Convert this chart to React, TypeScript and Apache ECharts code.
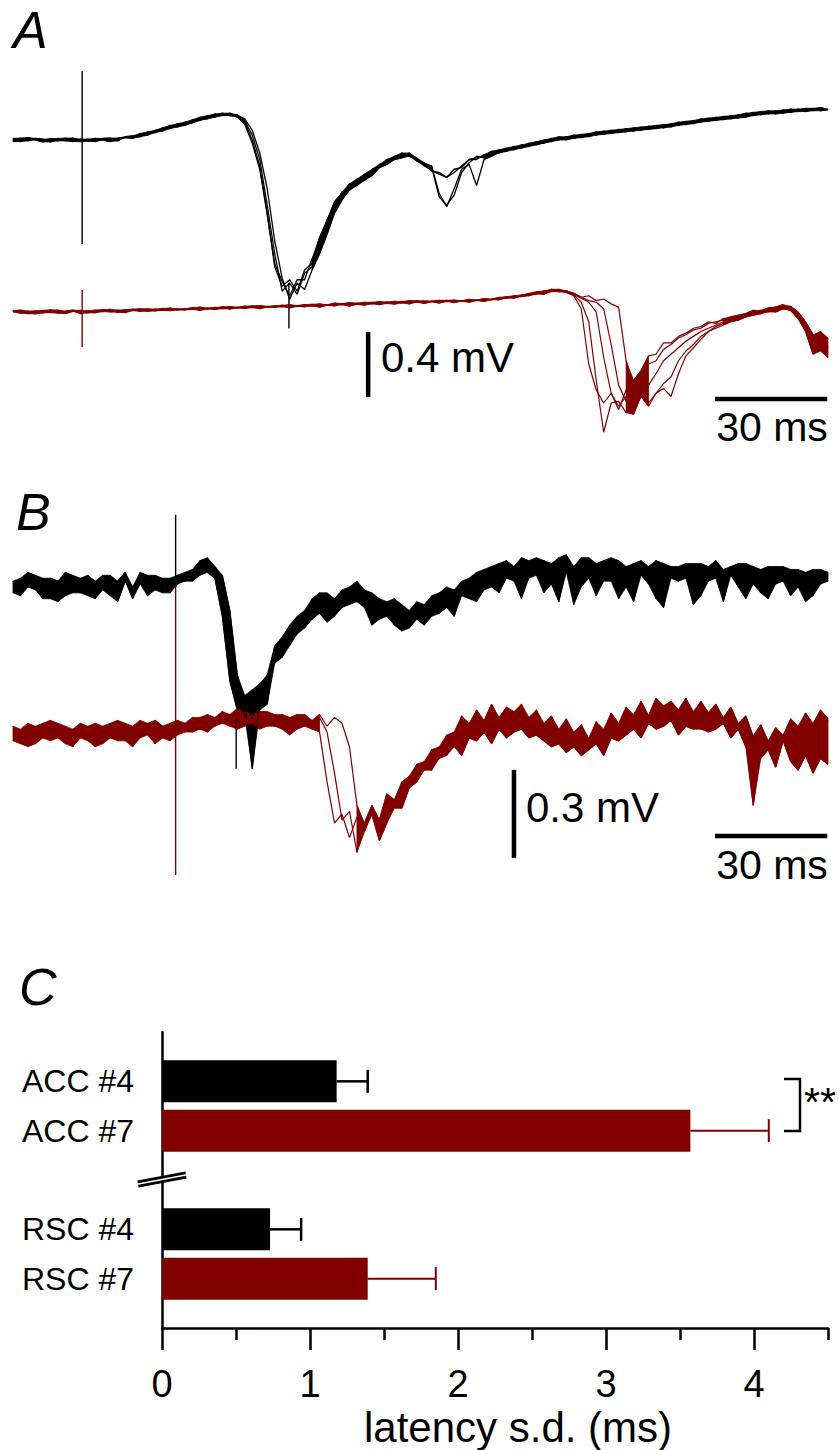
import React, { useEffect, useRef } from "react";
import * as echarts from "echarts";

const FONT = "'Liberation Sans', Arial, Helvetica, sans-serif";
const BLACK = "#000000";
const RED = "#800000";

// ---- Time bases (ms relative to stimulus), 2 ms sampling ----
const STEP = 2;
const A_T0 = -18.5;
const B_T0 = -43.5;

// ---- Panel A, black sweeps (mV) ----
const aBlack1 = [
  0.01, -0.01, 0.015, 0, -0.012, 0.008, -0.005, 0.012, -0.01, 0.005,
  -0.008, 0.01, 0.0, -0.01, 0.012, 0.015, 0.01, 0.04, 0.03, 0.06,
  0.055, 0.09, 0.08, 0.11, 0.105, 0.14, 0.13, 0.16, 0.15, 0.165,
  0.14, 0.12, 0.03, -0.12, -0.4, -0.7, -0.93, -0.88, -0.95, -0.82,
  -0.78, -0.62, -0.54, -0.4, -0.35, -0.27, -0.27, -0.21, -0.21, -0.15,
  -0.14, -0.1, -0.1, -0.08, -0.13, -0.14, -0.19, -0.2, -0.23, -0.18,
  -0.17, -0.12, -0.12, -0.09, -0.09, -0.06, -0.07, -0.04, -0.05, -0.02,
  -0.03, 0.0, -0.01, 0.02, 0.0, 0.03, 0.015, 0.04, 0.03, 0.055,
  0.04, 0.065, 0.05, 0.075, 0.06, 0.085, 0.07, 0.095, 0.08, 0.11,
  0.095, 0.12, 0.11, 0.135, 0.12, 0.145, 0.13, 0.155, 0.14, 0.17,
  0.155, 0.18, 0.16, 0.185, 0.17, 0.19, 0.175, 0.195, 0.18, 0.19,
];
const aBlack2 = [
  -0.01, 0.012, -0.005, 0.01, 0.005, -0.012, 0.01, -0.006, 0.012, -0.01,
  0.006, -0.01, 0.01, 0.012, -0.005, 0.02, 0.025, 0.02, 0.05, 0.045,
  0.075, 0.07, 0.1, 0.09, 0.125, 0.12, 0.15, 0.14, 0.165, 0.15,
  0.155, 0.095, -0.02, -0.18, -0.46, -0.76, -0.87, -0.96, -0.86, -0.86,
  -0.73, -0.66, -0.49, -0.43, -0.32, -0.31, -0.24, -0.25, -0.18, -0.17,
  -0.12, -0.12, -0.08, -0.1, -0.11, -0.16, -0.17, -0.35, -0.4, -0.34,
  -0.2, -0.14, -0.1, -0.11, -0.07, -0.08, -0.05, -0.06, -0.03, -0.04,
  -0.01, -0.02, 0.01, 0.0, 0.02, 0.01, 0.035, 0.02, 0.05, 0.035,
  0.06, 0.045, 0.07, 0.055, 0.08, 0.065, 0.09, 0.075, 0.1, 0.09,
  0.115, 0.1, 0.13, 0.115, 0.14, 0.125, 0.15, 0.135, 0.165, 0.15,
  0.175, 0.16, 0.18, 0.165, 0.19, 0.175, 0.195, 0.18, 0.2, 0.185,
];
const aBlack3Start = 28;
const aBlack3 = [
  0.16, 0.15, 0.15, 0.13, 0.06, -0.08, -0.3, -0.62, -0.85, -0.98,
  -0.88, -0.92, -0.8, -0.7, -0.58, -0.45, -0.37, -0.3, -0.28, -0.24,
  -0.22, -0.17, -0.15, -0.12, -0.11, -0.09, -0.12, -0.15, -0.16, -0.33,
  -0.41, -0.3, -0.18, -0.15, -0.28, -0.12, -0.1, -0.07, -0.06,
];
const aBlack4Start = 30;
const aBlack4 = [
  0.15, 0.11, 0.0, -0.16, -0.45, -0.78, -0.9, -0.86, -0.93, -0.8,
  -0.76, -0.6, -0.5, -0.38, -0.33, -0.29, -0.25, -0.22, -0.19, -0.16,
  -0.13, -0.11, -0.09, -0.09, -0.12, -0.15, -0.19, -0.21, -0.23, -0.2,
  -0.16, -0.12, -0.11, -0.1, -0.07, -0.07, -0.05,
];

// ---- Panel A, red sweeps (mV) ----
const aRed1 = [
  0.0, 0.012, -0.01, 0.008, -0.006, 0.014, -0.008, 0.005, 0.012, -0.01,
  0.008, -0.005, 0.015, 0.0, 0.012, -0.004, 0.018, 0.004, 0.02, 0.006,
  0.022, 0.008, 0.02, 0.012, 0.028, 0.01, 0.025, 0.015, 0.032, 0.018,
  0.03, 0.022, 0.038, 0.02, 0.035, 0.028, 0.042, 0.025, 0.04, 0.032,
  0.048, 0.03, 0.045, 0.038, 0.052, 0.036, 0.055, 0.042, 0.06, 0.045,
  0.062, 0.048, 0.065, 0.05, 0.07, 0.052, 0.068, 0.055, 0.072, 0.058,
  0.07, 0.06, 0.075, 0.065, 0.08, 0.075, 0.095, 0.085, 0.105, 0.1,
  0.12, 0.11, 0.14, 0.125, 0.13, 0.1, 0.02, -0.32, -0.48, -0.56,
  -0.5, -0.6, -0.48, -0.42, -0.36, -0.27, -0.26, -0.19, -0.19, -0.15,
  -0.13, -0.1, -0.09, -0.06, -0.07, -0.04, -0.05, -0.02, -0.03, 0.0,
  -0.01, 0.02, 0.01, 0.04, 0.02, -0.02, -0.1, -0.2, -0.14, -0.22,
];
const aRed2 = [
  0.01, -0.008, 0.006, -0.012, 0.01, -0.004, 0.012, -0.01, 0.004, 0.01,
  -0.006, 0.012, 0.002, 0.016, -0.002, 0.014, 0.008, 0.02, 0.004, 0.018,
  0.01, 0.024, 0.012, 0.02, 0.016, 0.03, 0.018, 0.028, 0.02, 0.034,
  0.024, 0.036, 0.026, 0.04, 0.03, 0.038, 0.032, 0.045, 0.034, 0.046,
  0.036, 0.05, 0.04, 0.055, 0.044, 0.058, 0.046, 0.06, 0.05, 0.064,
  0.052, 0.066, 0.055, 0.07, 0.06, 0.068, 0.062, 0.072, 0.064, 0.074,
  0.066, 0.078, 0.07, 0.082, 0.075, 0.09, 0.085, 0.1, 0.095, 0.115,
  0.11, 0.13, 0.125, 0.14, 0.12, 0.115, 0.09, 0.1, 0.07, 0.08,
  0.05, 0.03, -0.3, -0.46, -0.44, -0.56, -0.5, -0.47, -0.52, -0.38,
  -0.27, -0.22, -0.17, -0.12, -0.09, -0.07, -0.05, -0.04, -0.02, -0.01,
  0.01, 0.0, 0.03, 0.02, 0.035, 0.0, -0.06, -0.14, -0.24, -0.16,
];
const aRedPartialStart = 68;
const aRed3 = [
  0.1, 0.11, 0.115, 0.125, 0.13, 0.135, 0.12, 0.105, 0.06, -0.06,
  -0.42, -0.74, -0.56, -0.55, -0.62, -0.47, -0.4, -0.32, -0.3, -0.23,
  -0.2, -0.16, -0.14, -0.11, -0.1, -0.07, -0.06, -0.05, -0.03, -0.02,
  -0.01, 0.01, 0.0, 0.025, 0.03, 0.045, 0.01, -0.04, -0.12, -0.26,
  -0.18, -0.25,
];
const aRed4 = [
  0.095, 0.105, 0.12, 0.11, 0.135, 0.13, 0.125, 0.11, 0.085, 0.06,
  0.0, -0.28, -0.5, -0.58, -0.52, -0.63, -0.5, -0.45, -0.38, -0.3,
  -0.26, -0.22, -0.18, -0.15, -0.12, -0.1, -0.08, -0.06, -0.05, -0.03,
  -0.02, -0.01, 0.005, 0.01, 0.025, 0.02, 0.03, -0.01, -0.08, -0.16,
  -0.12, -0.19,
];
const aRed5 = [
  0.105, 0.1, 0.125, 0.12, 0.14, 0.125, 0.13, 0.115, 0.09, 0.07,
  0.06, 0.02, -0.2, -0.45, -0.55, -0.6, -0.52, -0.58, -0.5, -0.44,
  -0.4, -0.3, -0.24, -0.2, -0.15, -0.12, -0.1, -0.08, -0.06, -0.05,
  -0.03, -0.02, -0.01, 0.01, 0.0, 0.02, 0.01, -0.03, -0.1, -0.22,
  -0.2, -0.28,
];

// ---- Panel B, black sweeps (mV) ----
const bBlack1 = [
  0.02, -0.03, 0.04, -0.01, 0.03, -0.04, 0.01, 0.05, -0.02, 0.03,
  -0.03, 0.02, -0.01, 0.04, -0.05, 0.02, 0.0, 0.03, -0.03, 0.04,
  -0.02, 0.03, 0.01, 0.05, 0.02, 0.09, 0.06, 0.07, 0.02, -0.28,
  -0.36, -0.44, -0.35, -0.42, -0.3, -0.26, -0.17, -0.2, -0.1, -0.14,
  -0.04, -0.09, -0.02, -0.1, -0.01, -0.06, 0.02, -0.07, -0.02, -0.11,
  -0.05, -0.13, -0.06, -0.14, -0.07, -0.12, -0.03, -0.09, 0.0, -0.06,
  0.02, -0.04, 0.05, -0.01, 0.07, 0.01, 0.09, 0.02, 0.08, 0.03,
  0.1, -0.02, 0.08, 0.04, 0.11, -0.06, 0.09, 0.03, 0.08, 0.02,
  0.1, -0.04, 0.07, 0.03, 0.09, 0.01, 0.08, -0.07, 0.06, 0.02,
  0.08, 0.0, 0.07, 0.03, 0.09, -0.05, 0.06, 0.02, 0.08, 0.01,
  0.06, -0.04, 0.07, 0.02, 0.06, 0.0, 0.05, -0.03, 0.06, 0.02,
];
const bBlack2 = [
  -0.02, 0.03, 0.0, 0.04, -0.03, 0.02, -0.05, 0.03, 0.01, -0.02,
  0.04, -0.01, 0.03, -0.03, 0.02, 0.05, -0.02, 0.01, 0.04, -0.01,
  0.03, 0.0, 0.04, 0.03, 0.06, 0.04, 0.1, 0.05, 0.04, -0.08,
  -0.3, -0.4, -0.62, -0.38, -0.35, -0.22, -0.24, -0.13, -0.16, -0.08,
  -0.11, -0.03, -0.08, -0.05, -0.04, 0.0, -0.05, -0.01, -0.08, -0.04,
  -0.1, -0.07, -0.15, -0.08, -0.11, -0.06, -0.1, -0.02, -0.07, -0.01,
  -0.03, 0.03, -0.02, 0.06, 0.0, 0.08, 0.03, 0.07, -0.04, 0.09,
  0.04, 0.08, 0.01, 0.1, 0.05, 0.07, 0.0, 0.1, 0.04, 0.09,
  0.02, 0.08, 0.05, -0.05, 0.07, 0.04, 0.09, 0.02, 0.07, 0.04,
  0.03, 0.08, -0.03, 0.07, 0.03, 0.06, 0.04, 0.08, -0.04, 0.06,
  0.03, 0.07, 0.01, 0.06, -0.03, 0.05, 0.02, 0.06, 0.01, 0.04,
];
const bBlack3 = [
  0.01, -0.01, 0.05, 0.0, -0.04, 0.03, 0.02, -0.03, 0.04, 0.0,
  0.02, -0.04, 0.04, 0.01, -0.02, 0.03, -0.04, 0.05, 0.0, 0.02,
  0.0, -0.02, 0.03, 0.02, 0.04, 0.07, 0.05, 0.03, -0.1, -0.32,
  -0.42, -0.37, -0.45, -0.33, -0.4, -0.2, -0.22, -0.15, -0.12, -0.1,
  -0.07, -0.02, -0.12, -0.04, -0.07, -0.03, 0.0, -0.05, -0.13, -0.06,
  -0.09, -0.04, -0.1, -0.12, -0.05, -0.13, -0.06, -0.08, -0.03, -0.1,
  0.0, 0.02, -0.05, 0.03, 0.05, -0.02, 0.06, 0.04, 0.1, 0.05,
  0.06, 0.09, 0.03, -0.05, 0.08, 0.04, 0.1, 0.06, -0.03, 0.07,
  0.06, 0.09, 0.0, 0.08, 0.04, 0.07, -0.04, 0.08, 0.03, 0.07,
  0.05, -0.06, 0.08, 0.02, 0.06, 0.04, 0.07, 0.0, 0.05, 0.07,
  -0.02, 0.05, 0.04, 0.07, 0.02, 0.06, -0.05, 0.04, 0.03, 0.05,
];

// ---- Panel B, red sweeps (mV) ----
const bRed1 = [
  0.03, -0.02, 0.04, -0.03, 0.01, 0.05, -0.01, 0.03, -0.04, 0.02,
  0.0, 0.04, -0.03, 0.02, 0.05, -0.02, 0.03, -0.01, 0.04, -0.03,
  0.02, 0.0, 0.05, 0.01, 0.06, 0.02, 0.07, 0.03, 0.08, 0.04,
  0.09, 0.03, 0.07, 0.02, 0.08, 0.04, 0.06, 0.0, 0.07, 0.03,
  0.05, 0.01, -0.16, -0.3, -0.27, -0.35, -0.28, -0.33, -0.26, -0.3,
  -0.22, -0.24, -0.16, -0.17, -0.1, -0.12, -0.05, -0.08, 0.0, -0.04,
  0.065, 0.015, 0.085, 0.045, 0.105, 0.055, 0.095, 0.065, 0.105, 0.045,
  0.085, 0.015, 0.065, 0.005, 0.055, -0.015, 0.035, -0.025, 0.045, 0.005,
  0.075, 0.035, 0.095, 0.055, 0.115, 0.065, 0.125, 0.075, 0.115, 0.085,
  0.125, 0.065, 0.115, 0.075, 0.105, 0.055, 0.095, 0.035, 0.065, -0.005,
  0.035, -0.025, 0.025, -0.005, 0.055, 0.015, 0.075, 0.035, 0.085, 0.055,
];
const bRed2 = [
  -0.02, 0.02, -0.04, 0.03, -0.01, 0.0, 0.04, -0.03, 0.02, -0.01,
  0.03, -0.04, 0.01, 0.04, -0.02, 0.02, -0.03, 0.05, 0.0, 0.02,
  -0.01, 0.04, 0.0, 0.03, 0.01, 0.05, 0.03, 0.06, 0.04, 0.07,
  0.02, 0.08, 0.05, 0.06, 0.03, 0.07, 0.02, 0.06, 0.04, 0.07,
  0.02, 0.06, 0.01, -0.13, -0.29, -0.26, -0.4, -0.3, -0.24, -0.29,
  -0.2, -0.25, -0.18, -0.14, -0.15, -0.09, -0.11, -0.04, -0.06, 0.01,
  -0.02, 0.04, 0.0, 0.05, 0.02, 0.06, 0.03, 0.08, 0.04, 0.06,
  0.0, 0.04, -0.02, 0.02, -0.04, 0.01, -0.05, -0.01, -0.03, 0.02,
  -0.01, 0.04, 0.01, 0.07, 0.03, 0.06, 0.04, 0.1, 0.05, 0.07,
  0.04, 0.08, 0.02, 0.07, 0.03, 0.06, 0.01, 0.04, -0.02, -0.24,
  -0.03, -0.02, -0.05, 0.0, -0.02, 0.03, 0.0, 0.04, 0.01, 0.05,
];
const bRed3 = [
  0.01, -0.03, 0.03, 0.0, 0.04, -0.02, 0.02, 0.01, -0.03, 0.04,
  -0.02, 0.02, 0.03, -0.01, 0.01, 0.04, -0.04, 0.02, 0.01, 0.05,
  0.03, -0.02, 0.03, 0.04, 0.02, 0.06, 0.01, 0.05, 0.06, 0.03,
  0.06, 0.05, 0.04, 0.08, 0.05, 0.03, 0.07, 0.05, 0.02, 0.06,
  0.04, 0.07, 0.03, 0.06, 0.04, -0.04, -0.24, -0.31, -0.27, -0.36,
  -0.3, -0.22, -0.25, -0.18, -0.16, -0.11, -0.12, -0.06, -0.07, -0.02,
  -0.07, -0.01, -0.02, 0.01, -0.03, 0.02, -0.01, 0.01, 0.02, -0.01,
  0.0, -0.02, -0.04, -0.03, -0.06, -0.04, -0.07, -0.05, -0.03, -0.07,
  -0.01, -0.02, 0.0, 0.02, -0.01, 0.04, 0.02, 0.03, 0.05, 0.0,
  0.03, 0.02, 0.06, 0.01, 0.02, 0.04, -0.01, 0.02, -0.04, -0.02,
  -0.08, -0.05, -0.11, -0.02, -0.09, -0.12, -0.07, -0.13, -0.08, -0.1,
];

// Sample-index ranges where overlapping sweeps merge into one noisy band
const aBlackBandRanges = [[0, 31], [40, 56], [63, 109]];
const aRedBandRanges = [[0, 75], [82, 85], [95, 109]];
const bBlackBandRanges = [[0, 109]];
const bRedBandRanges = [[0, 41], [46, 109]];

// ---- Stimulus artifacts: [time ms, from mV, to mV] ----
const aBlackArtifacts = [[0, 0.425, -0.64], [55.3, -0.88, -1.16]];
const aRedArtifacts = [[0, 0.135, -0.215]];
const bBlackArtifacts = [[0, 0.246, 0.0], [16.2, -0.45, -0.62]];
const bRedArtifacts = [[0, 0.512, -0.477]];

// ---- Scale bars ----
const aScaleMv = 0.4;
const bScaleMv = 0.3;
const scaleMs = 30;

// ---- Panel C: latency s.d. (ms) ----
const barCategories = ["ACC #4", "ACC #7", "RSC #4", "RSC #7"];
const barValues = [1.18, 3.57, 0.73, 1.39];
const barErrors = [0.21, 0.53, 0.21, 0.46];
const xTickValues = [0, 1, 2, 3, 4];
const xMinorTickValues = [0.5, 1.5, 2.5, 3.5, 4.5];

const barColors = [BLACK, RED, BLACK, RED];

type Sweep = { vals: number[]; start: number };

function toXY(values: number[], t0: number, start = 0) {
  return values.map((v, k) => [t0 + (start + k) * STEP, v]);
}

function envelopeAt(sweeps: Sweep[], i: number) {
  let lo = Infinity;
  let hi = -Infinity;
  sweeps.forEach((s) => {
    const k = i - s.start;
    if (k >= 0 && k < s.vals.length) {
      lo = Math.min(lo, s.vals[k]);
      hi = Math.max(hi, s.vals[k]);
    }
  });
  return [lo, hi];
}

function bandSeries(sweeps: Sweep[], t0: number, ranges: number[][], idx: number, color: string) {
  const envs = ranges.map(([a, b]) => {
    const lower: number[][] = [];
    const upper: number[][] = [];
    for (let i = a; i <= b; i++) {
      const [lo, hi] = envelopeAt(sweeps, i);
      const t = t0 + i * STEP;
      lower.push([t, lo]);
      upper.push([t, hi]);
    }
    return { lower, upper };
  });
  return {
    type: "custom",
    xAxisIndex: idx,
    yAxisIndex: idx,
    silent: true,
    z: 1,
    data: ranges.map(([a, b]) => [t0 + a * STEP, t0 + b * STEP, 0]),
    encode: { x: [0, 1], y: 2 },
    renderItem: (params: any, api: any) => {
      const e = envs[params.dataIndex];
      const pts = e.lower
        .map((p) => api.coord(p))
        .concat(e.upper.slice().reverse().map((p) => api.coord(p)));
      return {
        type: "polygon",
        shape: { points: pts },
        style: { fill: color, stroke: color, lineWidth: 0.8 },
      };
    },
  };
}

function traceSeries(data: number[][], idx: number, color: string, width = 1.1) {
  return {
    type: "line",
    xAxisIndex: idx,
    yAxisIndex: idx,
    data,
    showSymbol: false,
    symbol: "none",
    silent: true,
    lineStyle: { color, width },
    z: 2,
  };
}

function artifactSeries(arts: number[][], idx: number, color: string) {
  return arts.map((a) => traceSeries([[a[0], a[1]], [a[0], a[2]]], idx, color, 1.4));
}

function scaleBarSeries(idx: number, t: number, v: number, mv: number, tEnd: number, vH: number) {
  return [
    { ...traceSeries([[t, v], [t, v - mv]], idx, BLACK, 4.5), z: 5 },
    { ...traceSeries([[tEnd - scaleMs, vH], [tEnd, vH]], idx, BLACK, 4.5), z: 5 },
  ];
}

export default function App() {
  const ref = useRef<HTMLDivElement>(null);

  useEffect(() => {
    if (!ref.current) return;
    const chart = echarts.init(ref.current, undefined, { renderer: "svg" });

    const hiddenAxis = (idx: number, min: number, max: number) => ({
      type: "value", gridIndex: idx, min, max, show: false,
    });

    const axisCats = ["", barCategories[0], barCategories[1], " ", barCategories[2], barCategories[3], "  "];

    const aBlackSweeps: Sweep[] = [
      { vals: aBlack1, start: 0 }, { vals: aBlack2, start: 0 },
      { vals: aBlack3, start: aBlack3Start }, { vals: aBlack4, start: aBlack4Start },
    ];
    const aRedSweeps: Sweep[] = [
      { vals: aRed1, start: 0 }, { vals: aRed2, start: 0 },
      { vals: aRed3, start: aRedPartialStart }, { vals: aRed4, start: aRedPartialStart },
      { vals: aRed5, start: aRedPartialStart },
    ];
    const bBlackSweeps: Sweep[] = [
      { vals: bBlack1, start: 0 }, { vals: bBlack2, start: 0 }, { vals: bBlack3, start: 0 },
    ];
    const bRedSweeps: Sweep[] = [
      { vals: bRed1, start: 0 }, { vals: bRed2, start: 0 }, { vals: bRed3, start: 0 },
    ];

    const sweepLines = (sweeps: Sweep[], t0: number, idx: number, color: string, w: number) =>
      sweeps.map((s) => traceSeries(toXY(s.vals, t0, s.start), idx, color, w));

    const textEl = (text: string, x: number, y: number, size: number, italic = false, align = "left") => ({
      type: "text",
      x,
      y,
      z: 10,
      style: {
        text,
        fill: BLACK,
        fontSize: size,
        fontFamily: FONT,
        fontStyle: italic ? "italic" : "normal",
        align,
        verticalAlign: "middle",
      },
    });

    const option: any = {
      animation: false,
      backgroundColor: "#ffffff",
      grid: [
        { left: 13, width: 815, top: 58.75, height: 276.25, outerBoundsMode: "none" },
        { left: 13, width: 815, top: 263.25, height: 195, outerBoundsMode: "none" },
        { left: 13, width: 815, top: 499, height: 293.33, outerBoundsMode: "none" },
        { left: 13, width: 815, top: 559, height: 469.33, outerBoundsMode: "none" },
        { left: 162, width: 666, top: 1032, height: 296, outerBoundsMode: "none" },
      ],
      xAxis: [
        hiddenAxis(0, -18.5, 199.5),
        hiddenAxis(1, -18.5, 199.5),
        hiddenAxis(2, -43.5, 174.5),
        hiddenAxis(3, -43.5, 174.5),
        {
          type: "value",
          gridIndex: 4,
          min: 0,
          max: 4.5,
          position: "bottom",
          axisLine: { show: true, onZero: false, lineStyle: { color: BLACK, width: 2.5 } },
          axisTick: { show: true, length: 22, customValues: xTickValues, lineStyle: { color: BLACK, width: 2.5 } },
          axisLabel: { show: true, customValues: xTickValues, fontSize: 38, fontFamily: FONT, color: BLACK, margin: 37 },
          splitLine: { show: false },
          name: "latency s.d. (ms)",
          nameLocation: "middle",
          nameGap: 78,
          nameTextStyle: { fontSize: 42, fontFamily: FONT, color: BLACK, padding: [0, 0, 0, 46] },
        },
        {
          type: "value",
          gridIndex: 4,
          min: 0,
          max: 4.5,
          position: "bottom",
          axisLine: { show: false },
          axisTick: { show: true, length: 12, customValues: xMinorTickValues, lineStyle: { color: BLACK, width: 2.5 } },
          axisLabel: { show: false },
          splitLine: { show: false },
        },
      ],
      yAxis: [
        hiddenAxis(0, -1.2, 0.5),
        hiddenAxis(1, -0.9, 0.3),
        hiddenAxis(2, -0.7, 0.3),
        hiddenAxis(3, -1.0, 0.6),
        {
          type: "category",
          gridIndex: 4,
          data: axisCats,
          inverse: true,
          boundaryGap: false,
          axisLine: { show: true, lineStyle: { color: BLACK, width: 2.5 } },
          axisTick: { show: false },
          axisLabel: { interval: 0, fontSize: 32, fontFamily: FONT, color: BLACK, margin: 28 },
          splitLine: { show: false },
        },
      ],
      series: [
        // Panel A black
        bandSeries(aBlackSweeps, A_T0, aBlackBandRanges, 0, BLACK),
        ...sweepLines(aBlackSweeps, A_T0, 0, BLACK, 1.3),
        ...artifactSeries(aBlackArtifacts, 0, BLACK),
        // Panel A red
        bandSeries(aRedSweeps, A_T0, aRedBandRanges, 1, RED),
        ...sweepLines(aRedSweeps, A_T0, 1, RED, 1.2),
        ...artifactSeries(aRedArtifacts, 1, RED),
        ...scaleBarSeries(1, 76.5, -0.123, aScaleMv, 199.3, -0.535),
        // Panel B black
        bandSeries(bBlackSweeps, B_T0, bBlackBandRanges, 2, BLACK),
        ...sweepLines(bBlackSweeps, B_T0, 2, BLACK, 1.2),
        ...artifactSeries(bBlackArtifacts, 2, BLACK),
        // Panel B red
        bandSeries(bRedSweeps, B_T0, bRedBandRanges, 3, RED),
        ...sweepLines(bRedSweeps, B_T0, 3, RED, 1.2),
        ...artifactSeries(bRedArtifacts, 3, RED),
        ...scaleBarSeries(3, 90.5, -0.119, bScaleMv, 174.3, -0.344),
        // Panel C bars
        {
          type: "bar",
          xAxisIndex: 4,
          yAxisIndex: 4,
          barWidth: 42,
          silent: true,
          data: barValues.map((v, i) => ({ value: [v, barCategories[i]], itemStyle: { color: barColors[i] } })),
          z: 3,
        },
        {
          type: "custom",
          xAxisIndex: 4,
          yAxisIndex: 4,
          silent: true,
          z: 4,
          data: barValues.map((v, i) => [v, barCategories[i], v + barErrors[i]]),
          encode: { x: [0, 2], y: 1 },
          renderItem: (params: any, api: any) => {
            const yv = api.value(1);
            const p0 = api.coord([api.value(0), yv]);
            const p1 = api.coord([api.value(2), yv]);
            const color = barColors[params.dataIndex];
            const w = color === BLACK ? 2.5 : 2;
            return {
              type: "group",
              children: [
                { type: "line", shape: { x1: p0[0], y1: p0[1], x2: p1[0], y2: p1[1] }, style: { stroke: color, lineWidth: w } },
                { type: "line", shape: { x1: p1[0], y1: p1[1] - 11.5, x2: p1[0], y2: p1[1] + 11.5 }, style: { stroke: color, lineWidth: w } },
              ],
            };
          },
        },
      ],
      graphic: [
        textEl("A", 13, 30, 52, true),
        textEl("B", 16, 512, 52, true),
        textEl("C", 19, 987, 52, true),
        textEl("0.4 mV", 381, 357, 42),
        textEl("30 ms", 772, 427, 41, false, "center"),
        textEl("0.3 mV", 526, 807, 42),
        textEl("30 ms", 772, 865, 41, false, "center"),
        textEl("**", 804, 1102, 41),
        {
          type: "polyline",
          z: 10,
          shape: { points: [[784, 1079], [800, 1079], [800, 1131], [784, 1131]] },
          style: { stroke: BLACK, lineWidth: 2.5, fill: null },
        },
        {
          type: "line",
          z: 10,
          shape: { x1: 138, y1: 1184, x2: 186, y2: 1175 },
          style: { stroke: BLACK, lineWidth: 7 },
        },
        {
          type: "line",
          z: 11,
          shape: { x1: 137, y1: 1184.2, x2: 187, y2: 1174.8 },
          style: { stroke: "#ffffff", lineWidth: 1.6 },
        },
      ],
    };

    chart.setOption(option);
    return () => chart.dispose();
  }, []);

  return (
    <div
      ref={ref}
      style={{ position: "absolute", left: 0, top: 0, width: 839, height: 1450, background: "#fff" }}
    />
  );
}
